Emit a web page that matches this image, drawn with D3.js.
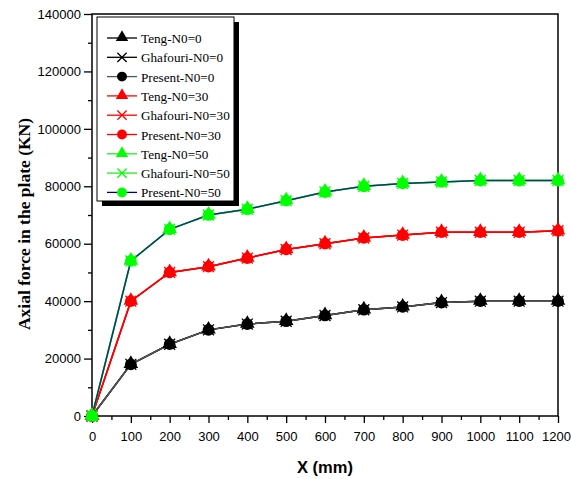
<!DOCTYPE html>
<html><head><meta charset="utf-8">
<script src="https://cdn.jsdelivr.net/npm/d3@7/dist/d3.min.js"></script>
<style>body{margin:0;background:#fff}svg{display:block}</style>
</head><body><svg id="c" width="571" height="479"></svg>
<script>
const xValues = [0,100,200,300,400,500,600,700,800,900,1000,1100,1200];
const n0_0  = [0,18000,25000,30000,32000,33000,35000,37000,38000,39500,40000,40000,40000];
const n0_30 = [0,40000,50000,52000,55000,58000,60000,62000,63000,64000,64000,64000,64500];
const n0_50 = [0,54000,65000,70000,72000,75000,78000,80000,81000,81500,82000,82000,82000];
const seriesNames = ["Teng-N0=0","Ghafouri-N0=0","Present-N0=0","Teng-N0=30","Ghafouri-N0=30","Present-N0=30","Teng-N0=50","Ghafouri-N0=50","Present-N0=50"];
const seriesShapes = ["triangle","cross","circle","triangle","cross","circle","triangle","cross","circle"];
const lineColors = ["#000000","#000000","#555555","#ff0000","#ff0000","#ff0000","#22ee22","#22ee22","#000080"];
const markerColors = ["#000000","#000000","#000000","#ff0000","#ff0000","#ff0000","#00ff00","#00ff00","#00ff00"];
const seriesValues = [n0_0,n0_0,n0_0,n0_30,n0_30,n0_30,n0_50,n0_50,n0_50];
const yTicks = [0,20000,40000,60000,80000,100000,120000,140000];
const xTicks = [0,100,200,300,400,500,600,700,800,900,1000,1100,1200];

const svg = d3.select("#c");
const L=92,R=558,T=14,B=416;
const x = d3.scaleLinear().domain([0,1200]).range([L,R]);
const y = d3.scaleLinear().domain([0,140000]).range([B,T]);

const gx = svg.append("g").attr("transform",`translate(0,${B})`);
gx.call(d3.axisBottom(x).tickValues(d3.range(50,1200,100)).tickSize(4).tickFormat(""));
gx.call(g=>g.select(".domain").remove());
const gx2 = svg.append("g").attr("transform",`translate(0,${B})`)
  .call(d3.axisBottom(x).tickValues(xTicks).tickSize(7).tickPadding(9).tickFormat(d3.format("d")));
gx2.select(".domain").remove();
gx2.selectAll("text").attr("font-family","Liberation Sans, Arial, sans-serif").attr("font-size",13).attr("fill","#000");
gx2.selectAll("text").filter(d=>d===1200).attr("dx",-2).attr("text-anchor","middle");
const gy = svg.append("g").attr("transform",`translate(${L},0)`);
gy.call(d3.axisLeft(y).tickValues(d3.range(10000,140000,20000)).tickSize(4).tickFormat(""));
gy.call(g=>g.select(".domain").remove());
const gy2 = svg.append("g").attr("transform",`translate(${L},0)`)
  .call(d3.axisLeft(y).tickValues(yTicks).tickSize(8).tickPadding(3).tickFormat(d3.format("d")));
gy2.select(".domain").remove();
gy2.selectAll("text").attr("font-family","Liberation Sans, Arial, sans-serif").attr("font-size",13).attr("fill","#000");
svg.selectAll(".tick line").attr("stroke","#000").attr("stroke-width",1.3);

svg.append("rect").attr("x",L).attr("y",T).attr("width",R-L).attr("height",B-T)
  .attr("fill","none").attr("stroke","#000").attr("stroke-width",1.5);

const line = d3.line().x((d,i)=>x(xValues[i])).y(d=>y(d));
seriesValues.forEach((vals,k)=>{
  svg.append("path").datum(vals).attr("d",line).attr("fill","none")
    .attr("stroke",lineColors[k]).attr("stroke-width",1.5)
    .attr("stroke-opacity", k===8?0.75:1);
});

function drawMarker(g,shape,cx,cy,color,s){
  if(shape==="triangle"){
    g.append("path").attr("d",d3.symbol(d3.symbolTriangle,s*s*0.55)()).attr("transform",`translate(${cx},${cy-0.5})`).attr("fill",color);
  } else if(shape==="circle"){
    g.append("circle").attr("cx",cx).attr("cy",cy).attr("r",s*0.45).attr("fill",color);
  } else {
    const h=s*0.42;
    g.append("path").attr("d",`M${cx-h},${cy-h}L${cx+h},${cy+h}M${cx-h},${cy+h}L${cx+h},${cy-h}`)
      .attr("stroke",color).attr("stroke-width",1.3).attr("fill","none");
  }
}
const mg = svg.append("g");
seriesValues.forEach((vals,k)=>{
  vals.forEach((v,i)=>drawMarker(mg,seriesShapes[k],x(xValues[i]),y(v),markerColors[k],13));
});

const lg = svg.append("g");
lg.append("rect").attr("x",102).attr("y",22).attr("width",137).attr("height",184).attr("fill","#000");
lg.append("rect").attr("x",97).attr("y",17).attr("width",137).attr("height",184).attr("fill","#fff").attr("stroke","#000").attr("stroke-width",1);
seriesNames.forEach((n,k)=>{
  const yy = 38 + k*19.3;
  lg.append("line").attr("x1",107).attr("x2",137).attr("y1",yy).attr("y2",yy).attr("stroke",lineColors[k]).attr("stroke-width",1.3);
  drawMarker(lg,seriesShapes[k],122,yy,markerColors[k],11);
  lg.append("text").attr("x",141).attr("y",yy+5).text(n)
    .attr("font-family","Liberation Serif, Times New Roman, serif").attr("font-size",13.2).attr("fill","#000");
});

svg.append("text").attr("transform","translate(30,224) rotate(-90)").attr("text-anchor","middle")
  .attr("font-family","Liberation Serif, Times New Roman, serif").attr("font-weight","bold").attr("font-size",17.5)
  .text("Axial force in the plate (KN)");
svg.append("text").attr("x",325).attr("y",473).attr("text-anchor","middle")
  .attr("font-family","Liberation Sans, Arial, sans-serif").attr("font-weight","bold").attr("font-size",16.5)
  .text("X (mm)");
</script></body></html>
